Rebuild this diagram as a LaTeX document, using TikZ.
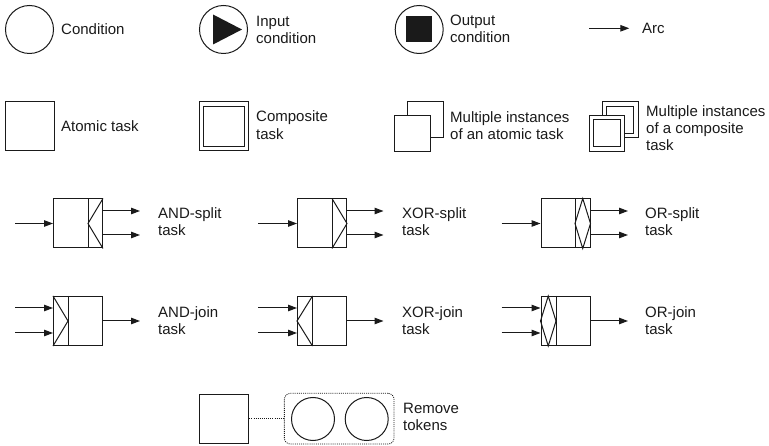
\documentclass[tikz,border=0pt]{standalone}
\usepackage{fontspec}
\setmainfont{Liberation Sans}
\usetikzlibrary{arrows.meta}
\newcommand{\lblfont}{\fontsize{15}{17.3}\selectfont}
\definecolor{ink}{HTML}{1A1A1A}
\tikzset{
  shape line/.style={draw=ink, line width=1pt},
  cond/.style={shape line, circle, minimum size=48pt, inner sep=0pt},
  taskbox/.style={shape line, rectangle, minimum width=49pt, minimum height=49pt, inner sep=0pt, fill=white},
  compbox/.style={shape line, rectangle, double=white, double distance=3.3pt, inner sep=0pt, fill=white},
  smallbox/.style={shape line, rectangle, minimum size=36pt, inner sep=0pt, fill=white},
  arc/.style={draw=ink, line width=1pt, -{Triangle[length=9pt,width=6.5pt]}},
  gate/.style={draw=ink, line width=1pt, line join=miter},
  dots/.style={draw=ink, line width=0.8pt, dash pattern=on 1pt off 1.1pt},
  lbl/.style={anchor=north west, inner sep=0pt, align=left, font=\lblfont, text=ink},
}
\begin{document}
\begin{tikzpicture}[x=1pt, y=-1pt]
\useasboundingbox (0,0) rectangle (769,446);

% ---- row 1: conditions and arc
\node[cond] (c) at (29.5,29.5) {};
\node[lbl] (cl) at (61,22.3) {\strut Condition};

\node[cond] (ic) at (223.5,29.5) {};
\fill[ink] ([shift={(-10.5,-15)}]ic.center) -- ([shift={(-10.5,15)}]ic.center) -- ([shift={(18.5,0)}]ic.center) -- cycle;
\node[lbl] (icl) at (256,13.9) {\strut Input\\condition};

\node[cond] (oc) at (419.2,29.5) {};
\node[fill=ink, minimum size=26pt, inner sep=0pt] (ocs) at (oc.center) {};
\node[lbl] (ocl) at (450,13.3) {\strut Output\\condition};

\coordinate (arcA) at (589.3,28.3);
\coordinate (arcB) at (629.3,28.3);
\draw[arc] (arcA) -- (arcB);
\node[lbl] (arcl) at (642,21.3) {\strut Arc};

% ---- row 2: tasks
\node[taskbox] (at) at (29.5,126.5) {};
\node[lbl] (atl) at (61,119.6) {\strut Atomic task};

\node[compbox, minimum size=44.7pt] (ct) at (224,126.5) {};
\node[lbl] (ctl) at (256,109.6) {\strut Composite\\task};

\node[smallbox] (mib) at (425.3,119.8) {};
\node[smallbox] (mif) at (412,133.3) {};
\node[lbl] (mil) at (450,110.3) {\strut Multiple instances\\of an atomic task};

\node[compbox, minimum size=31.5pt] (mcb) at (620.3,119.8) {};
\node[compbox, minimum size=31.5pt] (mcf) at (607,133.3) {};
\node[lbl] (mcl) at (646,103.8) {\strut Multiple instances\\of a composite\\task};

% ---- row 3: split tasks
% AND-split
\node[taskbox] (as) at (78,223.5) {};
\coordinate (asd) at ([xshift=-15pt]as.east);
\draw[gate] (asd |- as.north) -- (asd |- as.south);
\draw[gate] (as.north east) -- (asd) -- (as.south east);
\coordinate (asi) at (15,223.5);
\coordinate (aso1) at (140,211);
\coordinate (aso2) at (140,235);
\draw[arc] (asi) -- (as.west);
\draw[arc] (aso1 -| as.east) -- (aso1);
\draw[arc] (aso2 -| as.east) -- (aso2);
\node[lbl] (asl) at (158,206.3) {\strut AND-split\\task};

% XOR-split
\node[taskbox] (xs) at (322,223.5) {};
\coordinate (xsd) at ([xshift=-15pt]xs.east);
\draw[gate] (xsd |- xs.north) -- (xsd |- xs.south);
\draw[gate] (xsd |- xs.north) -- (xs.east) -- (xsd |- xs.south);
\coordinate (xsi) at (258,223.5);
\coordinate (xso1) at (383.5,211);
\coordinate (xso2) at (383.5,235);
\draw[arc] (xsi) -- (xs.west);
\draw[arc] (xso1 -| xs.east) -- (xso1);
\draw[arc] (xso2 -| xs.east) -- (xso2);
\node[lbl] (xsl) at (402,206.3) {\strut XOR-split\\task};

% OR-split
\node[taskbox] (os) at (565.5,223.5) {};
\coordinate (osd) at ([xshift=-15.5pt]os.east);
\coordinate (osm) at ([xshift=-7.75pt]os.east);
\draw[gate] (osd |- os.north) -- (osd |- os.south);
\draw[gate] (osm |- os.north) -- (osd) -- (osm |- os.south) -- (os.east) -- cycle;
\coordinate (osi) at (501.7,223.5);
\coordinate (oso1) at (628,211);
\coordinate (oso2) at (628,235);
\draw[arc] (osi) -- (os.west);
\draw[arc] (oso1 -| os.east) -- (oso1);
\draw[arc] (oso2 -| os.east) -- (oso2);
\node[lbl] (osl) at (645,206.3) {\strut OR-split\\task};

% ---- row 4: join tasks
% AND-join
\node[taskbox] (aj) at (78,321) {};
\coordinate (ajd) at ([xshift=15pt]aj.west);
\draw[gate] (ajd |- aj.north) -- (ajd |- aj.south);
\draw[gate] (aj.north west) -- (ajd) -- (aj.south west);
\coordinate (aji1) at (15,308);
\coordinate (aji2) at (15,333);
\coordinate (ajo) at (140,321);
\draw[arc] (aji1) -- (aji1 -| aj.west);
\draw[arc] (aji2) -- (aji2 -| aj.west);
\draw[arc] (aj.east) -- (ajo);
\node[lbl] (ajl) at (158,304.8) {\strut AND-join\\task};

% XOR-join
\node[taskbox] (xj) at (322,321) {};
\coordinate (xjd) at ([xshift=15.5pt]xj.west);
\draw[gate] (xjd |- xj.north) -- (xjd |- xj.south);
\draw[gate] (xjd |- xj.north) -- (xj.west) -- (xjd |- xj.south);
\coordinate (xji1) at (258,308);
\coordinate (xji2) at (258,333);
\coordinate (xjo) at (383.5,321);
\draw[arc] (xji1) -- (xji1 -| xj.west);
\draw[arc] (xji2) -- (xji2 -| xj.west);
\draw[arc] (xj.east) -- (xjo);
\node[lbl] (xjl) at (402,304.8) {\strut XOR-join\\task};

% OR-join
\node[taskbox] (oj) at (565.5,321) {};
\coordinate (ojd) at ([xshift=15.5pt]oj.west);
\coordinate (ojm) at ([xshift=7.75pt]oj.west);
\draw[gate] (ojd |- oj.north) -- (ojd |- oj.south);
\draw[gate] (ojm |- oj.north) -- (oj.west) -- (ojm |- oj.south) -- (ojd) -- cycle;
\coordinate (oji1) at (501.7,308);
\coordinate (oji2) at (501.7,333);
\coordinate (ojo) at (628,321);
\draw[arc] (oji1) -- (oji1 -| oj.west);
\draw[arc] (oji2) -- (oji2 -| oj.west);
\draw[arc] (oj.east) -- (ojo);
\node[lbl] (ojl) at (645,304.8) {\strut OR-join\\task};

% ---- row 5: remove tokens
\node[taskbox] (rt) at (224.3,418.7) {};
\node[dots, rectangle, rounded corners=6pt, minimum width=109.7pt, minimum height=50.7pt, inner sep=0pt] (rg) at (339.2,418.7) {};
\node[cond, minimum size=43pt] (rc1) at (313,419) {};
\node[cond, minimum size=43pt] (rc2) at (366.7,419) {};
\draw[dots] (rt.east) -- (rg.west);
\node[lbl] (rtl) at (403,401.3) {\strut Remove\\tokens};
\end{tikzpicture}
\end{document}
